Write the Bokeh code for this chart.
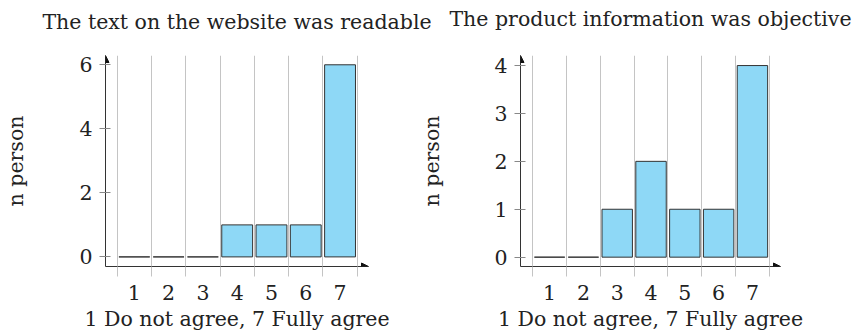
from bokeh.plotting import figure
from bokeh.layouts import row
from bokeh.models import FixedTicker, Range1d, Arrow, NormalHead, Title
from bokeh.embed import file_html
from bokeh.resources import INLINE

# ---- data ----
categories = [1, 2, 3, 4, 5, 6, 7]
bin_edges = [0.5, 1.5, 2.5, 3.5, 4.5, 5.5, 6.5, 7.5]
readable_counts = [0, 0, 0, 1, 1, 1, 6]
objective_counts = [0, 0, 1, 2, 1, 1, 4]
titles = ["The text on the website was readable", "The product information was objective"]
y_ticks_left = [0, 2, 4, 6]
y_ticks_right = [0, 1, 2, 3, 4]
x_label = "1 Do not agree, 7 Fully agree"
y_label = "n person"

FONT = "DejaVu Serif"
FS = "20.5px"
BAR = "#8ed8f6"
DARK = "#333333"
GRID = "#c4c4c4"
TXT = "#222222"
SHIFT = 24    # pull figures up so the titles can sit near the page top
OVERLAP = 14  # second figure overlaps the first (transparent border)


def make(counts, title, yticks, xr, yr, width, height, bl, br, bt, bb,
         title_standoff, ylab_standoff, margin_left, border_fill):
    p = figure(width=width, height=height, x_range=Range1d(*xr), y_range=Range1d(*yr),
               output_backend="svg", toolbar_location=None,
               min_border_left=bl, min_border_right=br, min_border_top=bt, min_border_bottom=bb)
    p.margin = (-SHIFT, 0, 0, margin_left)
    p.outline_line_color = None
    p.background_fill_color = "white"
    p.border_fill_color = border_fill

    p.title = Title(text=title, align="center", text_font=FONT, text_font_size=FS,
                    text_font_style="normal", text_color=TXT, standoff=title_standoff)

    xa = p.xaxis[0]
    xa.ticker = FixedTicker(ticks=categories, minor_ticks=bin_edges)
    xa.axis_line_color = DARK
    xa.axis_line_width = 1
    xa.major_tick_line_color = None
    xa.major_tick_in = 0
    xa.major_tick_out = 0
    xa.minor_tick_line_color = GRID
    xa.minor_tick_line_width = 1
    xa.minor_tick_in = 0
    xa.minor_tick_out = 10
    xa.major_label_text_font = FONT
    xa.major_label_text_font_size = FS
    xa.major_label_text_color = TXT
    xa.major_label_standoff = 8
    xa.axis_label = x_label
    xa.axis_label_text_font = FONT
    xa.axis_label_text_font_size = FS
    xa.axis_label_text_font_style = "normal"
    xa.axis_label_text_color = TXT
    xa.axis_label_standoff = 4

    ya = p.yaxis[0]
    ya.ticker = FixedTicker(ticks=yticks)
    ya.axis_line_color = DARK
    ya.axis_line_width = 1
    ya.major_tick_line_color = "#888888"
    ya.major_tick_in = 5
    ya.major_tick_out = 6
    ya.minor_tick_line_color = None
    ya.major_label_text_font = FONT
    ya.major_label_text_font_size = FS
    ya.major_label_text_color = TXT
    ya.major_label_standoff = 7
    ya.axis_label = y_label
    ya.axis_label_text_font = FONT
    ya.axis_label_text_font_size = FS
    ya.axis_label_text_font_style = "normal"
    ya.axis_label_text_color = TXT
    ya.axis_label_standoff = ylab_standoff

    p.xgrid.grid_line_color = None
    p.xgrid.minor_grid_line_color = GRID
    p.xgrid.minor_grid_line_width = 1
    p.ygrid.grid_line_color = None

    p.vbar(x=categories, top=counts, bottom=0, width=0.9,
           fill_color=BAR, line_color=DARK, line_width=1)

    p.add_layout(Arrow(end=NormalHead(size=7, fill_color="#111111", line_color="#111111"),
                       x_start=xr[1] - 0.05, y_start=yr[0], x_end=xr[1], y_end=yr[0],
                       line_color=DARK, line_width=1))
    p.add_layout(Arrow(end=NormalHead(size=7, fill_color="#111111", line_color="#111111"),
                       x_start=xr[0], y_start=yr[1] - 0.05, x_end=xr[0], y_end=yr[1],
                       line_color=DARK, line_width=1))
    return p


p1 = make(readable_counts, titles[0], y_ticks_left, (0.159, 7.83), (-0.30, 6.29),
          431, 334 + SHIFT, 105, 63, 53 + SHIFT, 68, 43, 48, 0, "white")
p2 = make(objective_counts, titles[1], y_ticks_right, (0.139, 7.83), (-0.195, 4.21),
          423 + OVERLAP, 334 + SHIFT, 87 + OVERLAP, 74, 55 + SHIFT, 66, 49, 47, -OVERLAP, None)

layout = row(p1, p2)
open("out.html", "w").write(file_html(layout, INLINE))
